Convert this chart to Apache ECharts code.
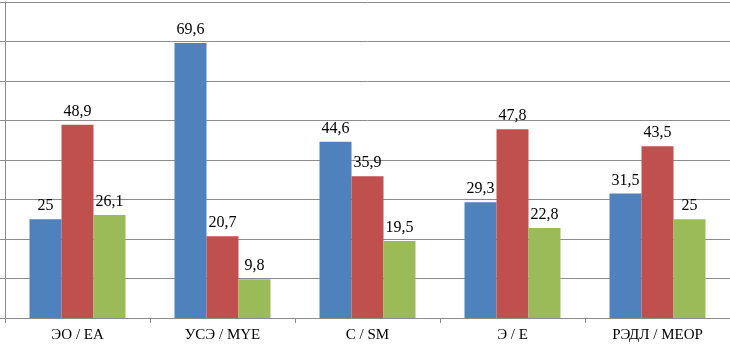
<!DOCTYPE html>
<html><head><meta charset="utf-8">
<script src="https://cdn.jsdelivr.net/npm/echarts@6/dist/echarts.min.js"></script>
<style>html,body{margin:0;padding:0;background:#fff}#c{width:730px;height:347px}</style>
</head><body><div id="c"></div>
<script>
const categories = ['ЭО / EA', 'УСЭ / MYE', 'С / SM', 'Э / E', 'РЭДЛ / MEOP'];
const seriesBlue = [25, 69.6, 44.6, 29.3, 31.5];
const seriesRed = [48.9, 20.7, 35.9, 47.8, 43.5];
const seriesGreen = [26.1, 9.8, 19.5, 22.8, 25];
const colors = ['#4F81BD', '#C0504D', '#9BBB59'];
const fmt = v => String(v.value).replace('.', ',');
const chart = echarts.init(document.getElementById('c'));
const mk = (data, color) => ({
  type: 'bar', data, barWidth: 32, barGap: '0%',
  itemStyle: { color },
  label: { show: true, position: 'top', formatter: fmt, color: '#000',
    fontFamily: 'Liberation Serif', fontSize: 16, distance: 5 }
});
chart.setOption({
  animation: false,
  grid: { left: 5, right: 0, top: 2, bottom: 29 },
  xAxis: { type: 'category', data: categories,
    axisLine: { lineStyle: { color: '#8c8c8c' } },
    axisTick: { show: true, length: 5, lineStyle: { color: '#8c8c8c' } },
    axisLabel: { color: '#000', fontFamily: 'Liberation Serif', fontSize: 15, margin: 10 } },
  yAxis: { type: 'value', min: 0, max: 80, interval: 10,
    axisLine: { show: true, lineStyle: { color: '#8c8c8c' } },
    axisTick: { show: true, length: 5, lineStyle: { color: '#8c8c8c' } },
    axisLabel: { show: false },
    splitLine: { lineStyle: { color: '#8c8c8c' } } },
  series: [mk(seriesBlue, colors[0]), mk(seriesRed, colors[1]), mk(seriesGreen, colors[2])]
});
</script></body></html>
